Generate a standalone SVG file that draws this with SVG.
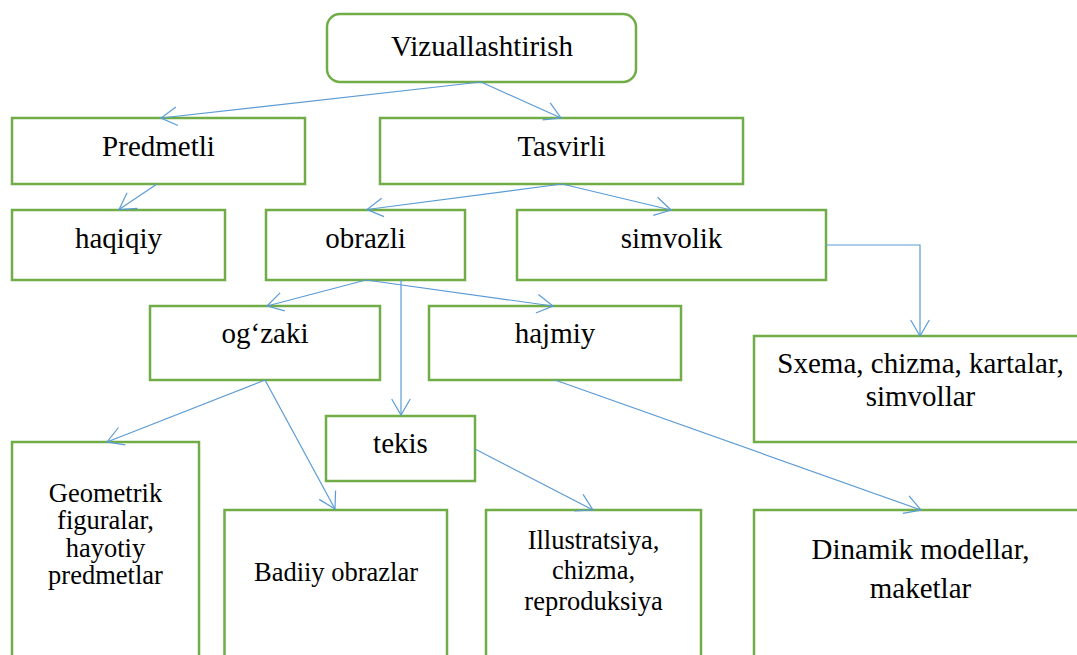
<svg xmlns="http://www.w3.org/2000/svg" width="1077" height="655" viewBox="0 0 1077 655">
<style>
.box{fill:#fff;stroke:#70AD47;stroke-width:2.5}
.t{font-size:29px;fill:#000;text-anchor:middle}
.s{font-size:26.5px}
.c{fill:none;stroke:#5B9BD5;stroke-width:1.2}
</style>
<defs>
<marker id="a" markerUnits="userSpaceOnUse" markerWidth="40" markerHeight="40" refX="0" refY="0" viewBox="-20 -20 40 40" orient="auto" overflow="visible">
<path d="M-16,-9.3 L0,0 L-16,9.3" fill="none" stroke="#5B9BD5" stroke-width="1.2"/>
</marker>
</defs>
<rect width="1077" height="655" fill="#fff"/>
<g font-family="Liberation Serif, Times New Roman, serif">
<g id="n-viz"><rect class="box" x="327" y="14" width="309" height="68" rx="13"/><text class="t" x="482" y="56">Vizuallashtirish</text></g>
<g id="n-predmetli"><rect class="box" x="12" y="118" width="293" height="66"/><text class="t" x="158.5" y="156">Predmetli</text></g>
<g id="n-tasvirli"><rect class="box" x="380" y="118" width="363" height="66"/><text class="t" x="561.5" y="156">Tasvirli</text></g>
<g id="n-haqiqiy"><rect class="box" x="12" y="210" width="213" height="70"/><text class="t" x="118.5" y="248">haqiqiy</text></g>
<g id="n-obrazli"><rect class="box" x="266" y="210" width="199" height="70"/><text class="t" x="365.5" y="248">obrazli</text></g>
<g id="n-simvolik"><rect class="box" x="517" y="210" width="309" height="70"/><text class="t" x="671.5" y="248">simvolik</text></g>
<g id="n-ogzaki"><rect class="box" x="150" y="306" width="230" height="74"/><text class="t" x="265" y="343">og‘zaki</text></g>
<g id="n-hajmiy"><rect class="box" x="429" y="306" width="252" height="74"/><text class="t" x="555" y="343">hajmiy</text></g>
<g id="n-tekis"><rect class="box" x="326" y="416" width="149" height="65"/><text class="t" x="400.5" y="453">tekis</text></g>
<g id="n-sxema"><rect class="box" x="754" y="336" width="333" height="106"/><text class="t" x="920.5" y="373">Sxema, chizma, kartalar,</text><text class="t" x="920.5" y="406">simvollar</text></g>
<g id="n-geometrik"><rect class="box" x="12" y="442" width="187" height="260"/><text class="t s" x="105.5" y="501.5">Geometrik</text><text class="t s" x="105.5" y="529">figuralar,</text><text class="t s" x="105.5" y="556.5">hayotiy</text><text class="t s" x="105.5" y="584">predmetlar</text></g>
<g id="n-badiiy"><rect class="box" x="224.5" y="510" width="222.5" height="200"/><text class="t s" x="336" y="581">Badiiy obrazlar</text></g>
<g id="n-illustratsiya"><rect class="box" x="486" y="510" width="215" height="200"/><text class="t s" x="593.5" y="549">Illustratsiya,</text><text class="t s" x="593.5" y="579">chizma,</text><text class="t s" x="593.5" y="610">reproduksiya</text></g>
<g id="n-dinamik"><rect class="box" x="754" y="510" width="333" height="200"/><text class="t" x="920.5" y="559">Dinamik modellar,</text><text class="t" x="920.5" y="598">maketlar</text></g>
</g>
<g id="connectors">
<path class="c" marker-end="url(#a)" d="M481,82 L161,118"/>
<path class="c" marker-end="url(#a)" d="M481,82 L561,118"/>
<path class="c" marker-end="url(#a)" d="M157,184 L119,209.5"/>
<path class="c" marker-end="url(#a)" d="M562,184 L367,209.5"/>
<path class="c" marker-end="url(#a)" d="M562,184 L671,210"/>
<path class="c" marker-end="url(#a)" d="M826,245 L920,245 L920,336"/>
<path class="c" marker-end="url(#a)" d="M366,280 L267,306"/>
<path class="c" marker-end="url(#a)" d="M366,280 L553,306"/>
<path class="c" marker-end="url(#a)" d="M401,280 L401,415"/>
<path class="c" marker-end="url(#a)" d="M265,380 L107,442"/>
<path class="c" marker-end="url(#a)" d="M265,380 L335,509"/>
<path class="c" marker-end="url(#a)" d="M475,449 L593,510"/>
<path class="c" marker-end="url(#a)" d="M555,380 L921,510"/>
</g>
</svg>
